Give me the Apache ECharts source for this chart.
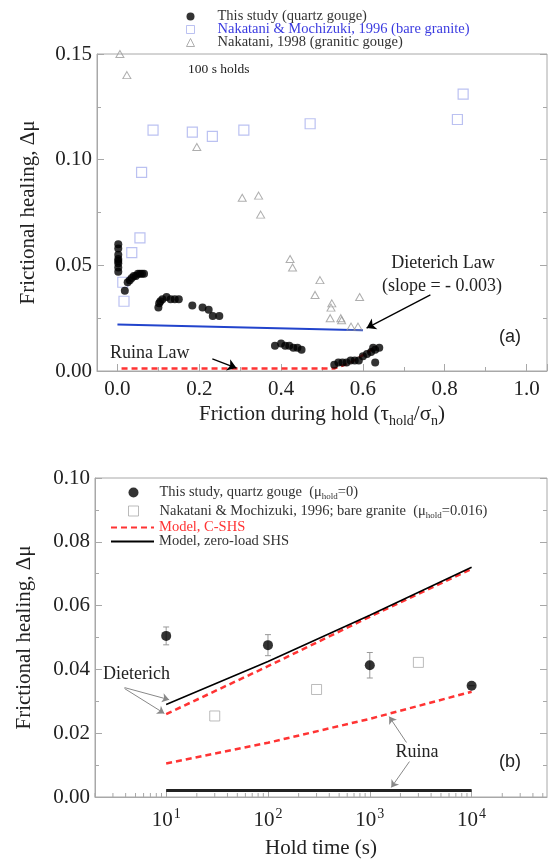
<!DOCTYPE html>
<html>
<head>
<meta charset="utf-8">
<script src="https://cdn.jsdelivr.net/npm/echarts@6/dist/echarts.min.js"></script>
<style>
  html, body { margin: 0; padding: 0; background: #fff; }
  #chart { width: 550px; height: 864px; }
</style>
</head>
<body>
<div id="chart"></div>
<script>
// (a) 100 s holds: healing vs friction during hold
const studyA = [
  [0.002, 0.060], [0.002, 0.058], [0.002, 0.055], [0.002, 0.053], [0.002, 0.052],
  [0.002, 0.051], [0.002, 0.049], [0.002, 0.047],
  [0.018, 0.038], [0.025, 0.042], [0.030, 0.043], [0.035, 0.044], [0.040, 0.045],
  [0.045, 0.045], [0.050, 0.046], [0.055, 0.046], [0.060, 0.046], [0.065, 0.046],
  [0.100, 0.030], [0.102, 0.032], [0.105, 0.033], [0.110, 0.034], [0.120, 0.035],
  [0.130, 0.034], [0.140, 0.034], [0.150, 0.034],
  [0.183, 0.031], [0.208, 0.030], [0.223, 0.029], [0.233, 0.026], [0.249, 0.026],
  [0.385, 0.012], [0.400, 0.013], [0.410, 0.012], [0.420, 0.012], [0.430, 0.011],
  [0.440, 0.011], [0.450, 0.010],
  [0.530, 0.003], [0.540, 0.004], [0.550, 0.004], [0.560, 0.004], [0.570, 0.005],
  [0.580, 0.005], [0.590, 0.005], [0.600, 0.007], [0.610, 0.008], [0.620, 0.009],
  [0.625, 0.011], [0.630, 0.010], [0.640, 0.011], [0.630, 0.004]
];
const nmSquaresA = [
  [0.087, 0.114], [0.059, 0.094], [0.183, 0.113], [0.232, 0.111], [0.309, 0.114],
  [0.471, 0.117], [0.845, 0.131], [0.831, 0.119], [0.055, 0.063], [0.035, 0.056],
  [0.016, 0.033], [0.013, 0.042]
];
const nakatani98A = [
  [0.006, 0.150], [0.023, 0.140], [0.194, 0.106], [0.305, 0.082], [0.345, 0.083],
  [0.350, 0.074], [0.422, 0.053], [0.428, 0.049], [0.495, 0.043], [0.483, 0.036],
  [0.524, 0.032], [0.522, 0.030], [0.592, 0.035], [0.520, 0.025], [0.546, 0.025],
  [0.548, 0.024], [0.571, 0.021], [0.588, 0.021]
];
const dieterichA = [[0.0, 0.022], [0.6, 0.0193]];
const ruinaA = [[0.01, 0.0012], [0.53, 0.0012], [0.57, 0.004], [0.60, 0.0075], [0.63, 0.011]];

// (b) healing vs hold time
const studyB = [[10, 0.0505], [100, 0.0476], [1000, 0.0413], [10000, 0.0349]];
const studyErrB = [0.0028, 0.0033, 0.0040, 0.0];
const nmB = [[30, 0.0254], [300, 0.0337], [3000, 0.0422]];
const cshsDieterich = [[10, 0.026], [100, 0.041], [1000, 0.0565], [10000, 0.0715]];
const cshsRuina = [[10, 0.0105], [100, 0.017], [1000, 0.0245], [10000, 0.033]];
const zeroDieterich = [[10, 0.029], [100, 0.0425], [1000, 0.057], [10000, 0.072]];
const zeroRuina = [[10, 0.002], [10000, 0.002]];
const minorTicksB = [2, 3, 4, 5, 6, 7, 8, 9, 20, 30, 40, 50, 60, 70, 80, 90,
  200, 300, 400, 500, 600, 700, 800, 900, 2000, 3000, 4000, 5000, 6000, 7000, 8000, 9000,
  20000, 30000, 40000, 50000];

const serif = '"Liberation Serif", "Times New Roman", serif';
const sans = '"Liberation Sans", Arial, sans-serif';
const axisGray = '#a8a8a8';
const ink = '#222';

let chart = echarts.init(document.getElementById('chart'));

const subRich = {
  sub: { fontSize: 14, fontFamily: serif, color: ink, padding: [14, 0, 0, 0] }
};
const smallSub = {
  sub: { fontSize: 9, fontFamily: serif, color: '#333', padding: [9, 0, 0, 0] }
};

function valueAxis(grid, min, max, interval, right) {
  return {
    gridIndex: grid, type: 'value', min: min, max: max, interval: interval,
    position: right ? 'right' : 'left',
    axisLine: { show: !right, onZero: false, lineStyle: { color: axisGray } },
    axisTick: { inside: true, length: 7, lineStyle: { color: axisGray } },
    minorTick: { show: true, splitNumber: 2, length: 4, lineStyle: { color: axisGray } },
    splitLine: { show: false },
    axisLabel: {
      show: !right, fontSize: 21, fontFamily: serif, color: ink, margin: 5,
      formatter: v => v.toFixed(2)
    }
  };
}

let yA = valueAxis(0, 0, 0.15, 0.05, false);
yA.name = 'Frictional healing, Δμ';
yA.nameLocation = 'middle';
yA.nameGap = 58;
yA.nameTextStyle = { fontSize: 21, fontFamily: serif, color: ink };
let yB = valueAxis(1, 0, 0.10, 0.02, false);
yB.name = 'Frictional healing, Δμ';
yB.nameLocation = 'middle';
yB.nameGap = 60;
yB.nameTextStyle = { fontSize: 21, fontFamily: serif, color: ink };

let option = {
  animation: false,
  textStyle: { fontFamily: serif },
  grid: [
    { left: 97, top: 54, width: 450, height: 317, show: true, borderColor: axisGray, borderWidth: 1 },
    { left: 95, top: 478, width: 452, height: 319, show: true, borderColor: axisGray, borderWidth: 1 }
  ],
  legend: [
    {
      data: [
        { name: 'This study (quartz gouge)' },
        { name: 'Nakatani & Mochizuki, 1996 (bare granite)', textStyle: { color: '#3b3be0' } },
        { name: 'Nakatani, 1998 (granitic gouge)' }
      ],
      orient: 'vertical', left: 186, top: 9, padding: 0, itemWidth: 8, itemHeight: 8, itemGap: -2,
      itemStyle: { borderWidth: 1 },
      textStyle: { fontSize: 14.5, fontFamily: serif, color: '#333', lineHeight: 13, padding: [0, 0, 0, 18] },
      selectedMode: false
    },
    {
      data: ['This study, quartz gouge', 'Nakatani & Mochizuki, 1996; bare granite'],
      orient: 'vertical', left: 128, top: 485, padding: 0, itemWidth: 10, itemHeight: 10, itemGap: 2,
      itemStyle: { borderWidth: 1 },
      formatter: function (name) {
        if (name === 'This study, quartz gouge') return name + '  (μ{sub|hold}=0)';
        return name + '  (μ{sub|hold}=0.016)';
      },
      textStyle: { fontSize: 14.5, fontFamily: serif, color: '#333', lineHeight: 14, padding: [0, 0, 0, 16], rich: smallSub },
      selectedMode: false
    },
    {
      data: [
        { name: 'Model, C-SHS', textStyle: { color: '#ff3333' } },
        { name: 'Model, zero-load SHS' }
      ],
      orient: 'vertical', left: 110, top: 520, padding: 0, itemWidth: 43, itemHeight: 10, itemGap: -1,
      itemStyle: { color: 'rgba(0,0,0,0)', borderWidth: 0, opacity: 0 },
      textStyle: { fontSize: 14.5, fontFamily: serif, color: '#333', lineHeight: 14 },
      selectedMode: false
    }
  ],
  xAxis: [
    {
      gridIndex: 0, type: 'value', min: -0.05, max: 1.05, splitNumber: 5,
      axisLine: { onZero: false, lineStyle: { color: axisGray } },
      axisTick: { inside: true, length: 7, lineStyle: { color: axisGray } },
      minorTick: { show: true, splitNumber: 2, length: 4, lineStyle: { color: axisGray } },
      splitLine: { show: false },
      axisLabel: {
        showMinLabel: false, showMaxLabel: false, fontSize: 21, fontFamily: serif, color: ink, margin: 8,
        formatter: v => v.toFixed(1)
      },
      name: 'Friction during hold (τ{sub|hold}/σ{sub|n})',
      nameLocation: 'middle', nameGap: 29,
      nameTextStyle: { fontSize: 21, fontFamily: serif, color: ink, rich: subRich }
    },
    {
      gridIndex: 1, type: 'log', logBase: 10, min: 2, max: 55000,
      axisLine: { onZero: false, lineStyle: { color: axisGray } },
      axisTick: { inside: true, length: 7, lineStyle: { color: axisGray } },
      splitLine: { show: false },
      axisLabel: {
        showMinLabel: false, showMaxLabel: false, fontSize: 21, fontFamily: serif, color: ink, margin: 10,
        formatter: v => '10{sup|' + Math.round(Math.log10(v)) + '}',
        rich: { sup: { fontSize: 14, fontFamily: serif, color: ink, padding: [0, 0, 12, 1] } }
      },
      name: 'Hold time (s)', nameLocation: 'middle', nameGap: 41,
      nameTextStyle: { fontSize: 21, fontFamily: serif, color: ink }
    }
  ],
  yAxis: [
    yA,
    valueAxis(0, 0, 0.15, 0.05, true),
    yB,
    valueAxis(1, 0, 0.10, 0.02, true)
  ],
  series: [
    // ---- panel (a)
    {
      name: 'Ruina Law', type: 'line', xAxisIndex: 0, yAxisIndex: 0, data: ruinaA,
      symbol: 'none', lineStyle: { color: '#ff3333', width: 2.5, type: [6, 4] }, z: 2,
      markLine: {
        silent: true, symbol: ['none', 'arrow'], symbolSize: 9,
        lineStyle: { color: '#000', width: 1.3, type: 'solid' }, label: { show: false },
        data: [[{ coord: [0.232, 0.0057] }, { coord: [0.291, 0.0014] }]]
      }
    },
    {
      name: 'Dieterich Law', type: 'line', xAxisIndex: 0, yAxisIndex: 0, data: dieterichA,
      symbol: 'none', lineStyle: { color: '#2244cc', width: 2 }, z: 2,
      markLine: {
        silent: true, symbol: ['none', 'arrow'], symbolSize: 9,
        lineStyle: { color: '#000', width: 1.3, type: 'solid' }, label: { show: false },
        data: [[{ coord: [0.765, 0.036] }, { coord: [0.609, 0.0203] }]]
      }
    },
    {
      name: 'Nakatani, 1998 (granitic gouge)', type: 'scatter', xAxisIndex: 0, yAxisIndex: 0,
      data: nakatani98A, symbol: 'triangle', symbolSize: [8, 7],
      itemStyle: { color: 'rgba(0,0,0,0)', borderColor: '#9a9a9a', borderWidth: 1 }, z: 3
    },
    {
      name: 'Nakatani & Mochizuki, 1996 (bare granite)', type: 'scatter', xAxisIndex: 0, yAxisIndex: 0,
      data: nmSquaresA, symbol: 'rect', symbolSize: 10,
      itemStyle: { color: 'rgba(0,0,0,0)', borderColor: '#aab2ee', borderWidth: 1.2 }, z: 3
    },
    {
      name: 'This study (quartz gouge)', type: 'scatter', xAxisIndex: 0, yAxisIndex: 0,
      data: studyA, symbol: 'circle', symbolSize: 8, itemStyle: { color: '#000' }, z: 4
    },
    // ---- panel (b)
    {
      name: 'Model, C-SHS', type: 'line', xAxisIndex: 1, yAxisIndex: 2, data: cshsDieterich,
      symbol: 'none', itemStyle: { color: '#ff3333' },
      lineStyle: { color: '#ff3333', width: 2.5, type: [6, 4] }, z: 2
    },
    {
      name: 'Model, C-SHS', type: 'line', xAxisIndex: 1, yAxisIndex: 2, data: cshsRuina,
      symbol: 'none', itemStyle: { color: '#ff3333' },
      lineStyle: { color: '#ff3333', width: 2.5, type: [6, 4] }, z: 2,
      markLine: {
        silent: true, symbol: ['none', 'arrow'], symbolSize: 7,
        lineStyle: { color: '#888', width: 1, type: 'solid' }, label: { show: false },
        data: [
          [{ coord: [3.9, 0.0343] }, { coord: [10.7, 0.0305] }],
          [{ coord: [3.9, 0.0340] }, { coord: [9.6, 0.0262] }],
          [{ coord: [2290, 0.0171] }, { coord: [1550, 0.0252] }],
          [{ coord: [2450, 0.0111] }, { coord: [1625, 0.0030] }]
        ]
      }
    },
    {
      name: 'Model, zero-load SHS', type: 'line', xAxisIndex: 1, yAxisIndex: 2, data: zeroDieterich,
      symbol: 'none', itemStyle: { color: '#000' }, lineStyle: { color: '#000', width: 1.6 }, z: 3
    },
    {
      name: 'Model, zero-load SHS', type: 'line', xAxisIndex: 1, yAxisIndex: 2, data: zeroRuina,
      symbol: 'none', itemStyle: { color: '#222' }, lineStyle: { color: '#222', width: 3 }, z: 3
    },
    {
      name: 'errors', type: 'custom', xAxisIndex: 1, yAxisIndex: 2,
      data: studyB.map((p, i) => [p[0], p[1], studyErrB[i]]),
      renderItem: function (params, api) {
        let x = api.value(0), y = api.value(1), e = api.value(2);
        let hi = api.coord([x, y + e]);
        let lo = api.coord([x, y - e]);
        let st = { stroke: '#999', lineWidth: 1 };
        return {
          type: 'group', children: [
            { type: 'line', shape: { x1: hi[0], y1: hi[1], x2: lo[0], y2: lo[1] }, style: st },
            { type: 'line', shape: { x1: hi[0] - 3, y1: hi[1], x2: hi[0] + 3, y2: hi[1] }, style: st },
            { type: 'line', shape: { x1: lo[0] - 3, y1: lo[1], x2: lo[0] + 3, y2: lo[1] }, style: st }
          ]
        };
      },
      z: 3
    },
    {
      name: 'This study, quartz gouge', type: 'scatter', xAxisIndex: 1, yAxisIndex: 2,
      data: studyB, symbol: 'circle', symbolSize: 10, itemStyle: { color: '#000' }, z: 4
    },
    {
      name: 'Nakatani & Mochizuki, 1996; bare granite', type: 'scatter', xAxisIndex: 1, yAxisIndex: 2,
      data: nmB, symbol: 'rect', symbolSize: 10,
      itemStyle: { color: 'rgba(0,0,0,0)', borderColor: '#aaa', borderWidth: 1 }, z: 4
    },
    {
      // log-axis minor ticks (2..9 of each decade)
      name: 'minor ticks', type: 'custom', xAxisIndex: 1, yAxisIndex: 2, silent: true,
      data: minorTicksB.map(t => [t, 0]),
      renderItem: function (params, api) {
        let p = api.coord([api.value(0), 0]);
        return { type: 'line', shape: { x1: p[0], y1: p[1], x2: p[0], y2: p[1] - 4 }, style: { stroke: axisGray, lineWidth: 1 } };
      },
      z: 1
    }
  ],
  graphic: [
    { type: 'text', left: 188, top: 62, style: { text: '100 s holds', font: '13.5px ' + serif, fill: ink } },
    { type: 'text', left: 110, top: 344, style: { text: 'Ruina Law', font: '18px ' + serif, fill: ink } },
    { type: 'text', x: 443, y: 263, style: { text: 'Dieterich Law', font: '18px ' + serif, fill: ink, align: 'center', verticalAlign: 'middle' } },
    { type: 'text', x: 442, y: 286, style: { text: '(slope = - 0.003)', font: '18px ' + serif, fill: ink, align: 'center', verticalAlign: 'middle' } },
    { type: 'text', x: 510, y: 337, style: { text: '(a)', font: '18px ' + sans, fill: ink, align: 'center', verticalAlign: 'middle' } },
    { type: 'text', left: 103, top: 665, style: { text: 'Dieterich', font: '18px ' + serif, fill: ink } },
    { type: 'text', x: 417, y: 752, style: { text: 'Ruina', font: '18px ' + serif, fill: ink, align: 'center', verticalAlign: 'middle' } },
    { type: 'text', x: 510, y: 762, style: { text: '(b)', font: '18px ' + sans, fill: ink, align: 'center', verticalAlign: 'middle' } }
  ]
};

option && chart.setOption(option);
</script>
</body>
</html>
